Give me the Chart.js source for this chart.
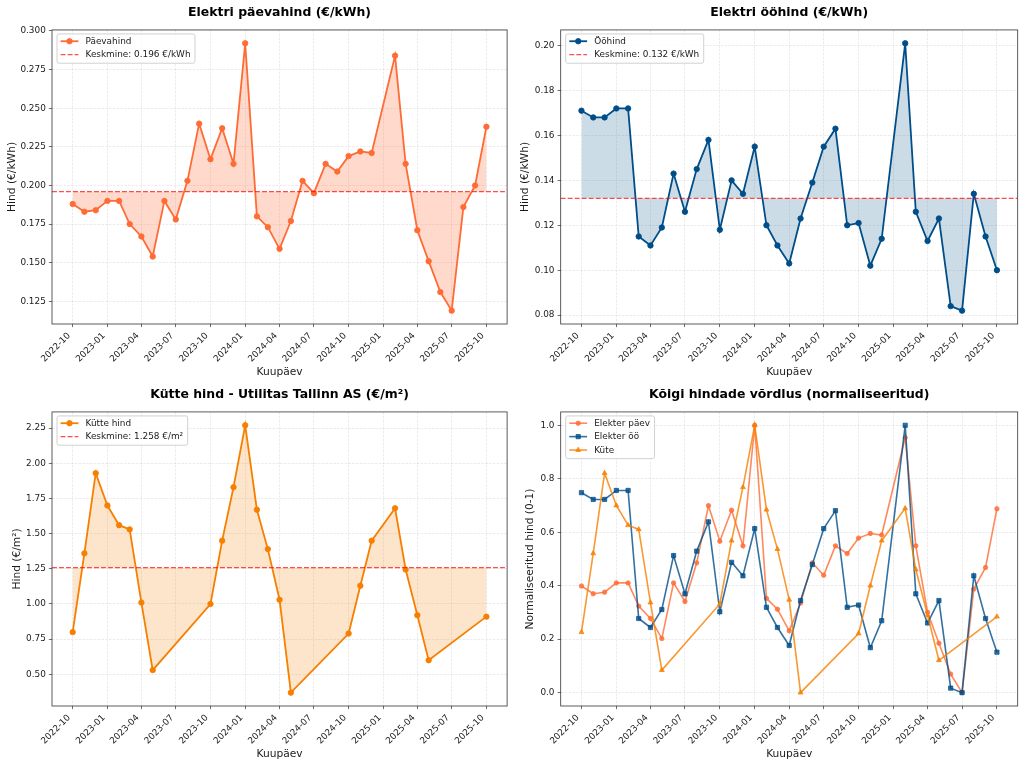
<!DOCTYPE html>
<html><head><meta charset="utf-8">
<script src="https://cdn.jsdelivr.net/npm/chart.js@4.4.1/dist/chart.umd.min.js"></script>
<style>
body{margin:0;background:#fff;width:1024px;height:766px;overflow:hidden;position:relative}
canvas{position:absolute}
</style></head><body>
<canvas id="c1" width="512" height="383" style="left:0;top:0;width:512px;height:383px"></canvas>
<canvas id="c2" width="512" height="383" style="left:512px;top:0;width:512px;height:383px"></canvas>
<canvas id="c3" width="512" height="383" style="left:0;top:382px;width:512px;height:383px"></canvas>
<canvas id="c4" width="512" height="383" style="left:512px;top:382px;width:512px;height:383px"></canvas>
<script>
// ---------- DATA ----------
const elecMonths = ['2022-10','2022-11','2022-12','2023-01','2023-02','2023-03','2023-04','2023-05','2023-06','2023-07','2023-08','2023-09','2023-10','2023-11','2023-12','2024-01','2024-02','2024-03','2024-04','2024-05','2024-06','2024-07','2024-08','2024-09','2024-10','2024-11','2024-12','2025-02','2025-03','2025-04','2025-05','2025-06','2025-07','2025-08','2025-09','2025-10'];
const dayPrice = [0.188,0.183,0.184,0.190,0.190,0.175,0.167,0.154,0.190,0.178,0.203,0.240,0.217,0.237,0.214,0.292,0.180,0.173,0.159,0.177,0.203,0.195,0.214,0.209,0.219,0.222,0.221,0.284,0.214,0.171,0.151,0.131,0.119,0.186,0.200,0.238];
const nightPrice = [0.171,0.168,0.168,0.172,0.172,0.115,0.111,0.119,0.143,0.126,0.145,0.158,0.118,0.140,0.134,0.155,0.120,0.111,0.103,0.123,0.139,0.155,0.163,0.120,0.121,0.102,0.114,0.201,0.126,0.113,0.123,0.084,0.082,0.134,0.115,0.100];
const heatMonths = ['2022-10','2022-11','2022-12','2023-01','2023-02','2023-03','2023-04','2023-05','2023-10','2023-11','2023-12','2024-01','2024-02','2024-03','2024-04','2024-05','2024-10','2024-11','2024-12','2025-02','2025-03','2025-04','2025-05','2025-10'];
const heatPrice = [0.80,1.36,1.93,1.70,1.56,1.53,1.01,0.53,1.00,1.45,1.83,2.27,1.67,1.39,1.03,0.37,0.79,1.13,1.45,1.68,1.245,0.92,0.60,0.91];
const dayMean = 0.196;
const nightMean = 0.132;
const heatMean = 1.258;
const xTickLabels = ['2022-10','2023-01','2023-04','2023-07','2023-10','2024-01','2024-04','2024-07','2024-10','2025-01','2025-04','2025-07','2025-10'];
const dayYTicks = [0.125,0.150,0.175,0.200,0.225,0.250,0.275,0.300];
const nightYTicks = [0.08,0.10,0.12,0.14,0.16,0.18,0.20];
const heatYTicks = [0.50,0.75,1.00,1.25,1.50,1.75,2.00,2.25];
const normYTicks = [0.0,0.2,0.4,0.6,0.8,1.0];

// ---------- HELPERS ----------
const FONT = 'DejaVu Sans';
const TXT = '#1a1a1a';
const base = (()=>{const [y,m]=xTickLabels[0].split('-').map(Number);return Date.UTC(y,m-1,1);})();
function toDay(s){const [y,m]=s.split('-').map(Number);return (Date.UTC(y,m-1,1)-base)/864e5;}
const allX = elecMonths.concat(heatMonths).map(toDay);
const xLo = Math.min(...allX), xHi = Math.max(...allX);
const xMin = xLo-(xHi-xLo)*0.05, xMax = xHi+(xHi-xLo)*0.05;
function yRange(arrs){const v=[].concat(...arrs);const lo=Math.min(...v),hi=Math.max(...v);return [lo-(hi-lo)*0.05,hi+(hi-lo)*0.05];}
function norm(a){const lo=Math.min(...a),hi=Math.max(...a);return a.map(v=>(v-lo)/(hi-lo));}
function pts(months,vals){return months.map((m,i)=>({x:toDay(m),y:vals[i]}));}
function rgba(hex,a){const n=parseInt(hex.slice(1),16);return `rgba(${n>>16},${(n>>8)&255},${n&255},${a})`;}

function drawMarker(ctx,style,x,y,r){
  ctx.beginPath();
  if(style==='rect'){const s=Math.SQRT1_2*r;ctx.rect(x-s,y-s,2*s,2*s);}
  else if(style==='triangle'){let a=-Math.PI/2;ctx.moveTo(x+Math.cos(a)*r,y+Math.sin(a)*r);for(let k=1;k<3;k++){a+=2*Math.PI/3;ctx.lineTo(x+Math.cos(a)*r,y+Math.sin(a)*r);}ctx.closePath();}
  else ctx.arc(x,y,r,0,Math.PI*2);
  ctx.fill();ctx.stroke();
}

const framePlugin = {id:'frame',afterDatasetsDraw(chart){
  const a=chart.chartArea,ctx=chart.ctx;ctx.save();ctx.strokeStyle='#333';ctx.lineWidth=0.8;ctx.setLineDash([]);
  ctx.strokeRect(a.left,a.top,a.right-a.left,a.bottom-a.top);ctx.restore();}};

const legendPlugin = {id:'inlegend',afterDraw(chart){
  const ctx=chart.ctx,a=chart.chartArea,ds=chart.data.datasets;
  ctx.save();
  ctx.font=`8.89px "${FONT}"`;
  const rowH=13.4;
  let maxW=0;ds.forEach(d=>{maxW=Math.max(maxW,ctx.measureText(d.label).width);});
  const x0=a.left+5,y0=a.top+4,w=maxW+33,h=ds.length*rowH+2.5;
  ctx.fillStyle='rgba(255,255,255,0.8)';ctx.strokeStyle='#cccccc';ctx.lineWidth=0.9;
  ctx.beginPath();ctx.roundRect(x0,y0,w,h,2);ctx.fill();ctx.stroke();
  ds.forEach((d,i)=>{
    const y=a.top+11.3+i*rowH;
    ctx.strokeStyle=d.borderColor;ctx.lineWidth=d.borderWidth;ctx.setLineDash(d.borderDash||[]);
    ctx.beginPath();ctx.moveTo(x0+3.6,y);ctx.lineTo(x0+21.4,y);ctx.stroke();
    ctx.setLineDash([]);
    if(d.pointRadius>0){ctx.fillStyle=d.pointBackgroundColor;ctx.strokeStyle=d.pointBorderColor;ctx.lineWidth=d.pointBorderWidth;drawMarker(ctx,d.pointStyle,x0+12.5,y,d.pointRadius);}
    ctx.fillStyle=TXT;ctx.textBaseline='middle';ctx.textAlign='left';
    ctx.fillText(d.label,x0+28.5,y+0.5);
  });
  ctx.restore();}};

function makeChart(id,c){
  const [yMin,yMax]=c.yRange;
  new Chart(document.getElementById(id),{
    type:'line',
    data:{datasets:c.datasets},
    plugins:[framePlugin,legendPlugin],
    options:{
      responsive:false,animation:false,events:[],
      layout:{padding:{left:0,right:c.rightPad,top:0,bottom:0}},
      plugins:{legend:{display:false},tooltip:{enabled:false},
        title:{display:true,text:c.title,fullSize:false,color:'#000',font:{family:FONT,size:12.44,weight:'bold',lineHeight:1.2},padding:{top:5,bottom:10}}},
      scales:{
        x:{type:'linear',min:xMin,max:xMax,
          afterBuildTicks:s=>{s.ticks=xTickLabels.map(t=>({value:toDay(t)}));},
          afterFit:s=>{s.height=59;},
          ticks:{autoSkip:false,minRotation:45,maxRotation:45,padding:3.6,labelOffset:-3.5,color:TXT,font:{family:FONT,size:8.89},
            callback:(v,i)=>xTickLabels[i]},
          grid:{color:'rgba(176,176,176,0.35)',lineWidth:0.71,tickLength:3.1,tickColor:'#333',tickWidth:0.71,tickBorderDash:[]},
          border:{display:false,dash:[2.6,1.2]},
          title:{display:true,text:'Kuupäev',color:TXT,font:{family:FONT,size:10.67,lineHeight:1.2},padding:{top:0,bottom:4.5}}},
        y:{type:'linear',min:yMin,max:yMax,
          afterBuildTicks:s=>{s.ticks=c.yTicks.map(v=>({value:v}));},
          afterFit:s=>{s.width=c.yWidth;},
          ticks:{padding:3.1,color:TXT,font:{family:FONT,size:8.89},callback:v=>Number(v).toFixed(c.yDec)},
          grid:{color:'rgba(176,176,176,0.35)',lineWidth:0.71,tickLength:3.1,tickColor:'#333',tickWidth:0.71,tickBorderDash:[]},
          border:{display:false,dash:[2.6,1.2]},
          title:{display:true,text:c.yTitle,color:TXT,font:{family:FONT,size:10.67,lineHeight:1.2},padding:{top:c.yTitlePad,bottom:0}}}
      }
    }
  });
}

function priceSets(label,months,vals,color,mean,unit,alpha){
  return [
    {label,data:pts(months,vals),borderColor:color,backgroundColor:rgba(color,alpha),fill:{value:mean},
     borderWidth:1.8,pointRadius:2.7,pointBorderWidth:0.9,pointStyle:'circle',pointBackgroundColor:color,pointBorderColor:color,tension:0,order:2},
    {label:'Keskmine: '+mean.toFixed(3)+' '+unit,data:[{x:xMin,y:mean},{x:xMax,y:mean}],borderColor:'rgba(255,0,0,0.7)',
     borderDash:[4.9,2.1],borderWidth:1.33,pointRadius:0,fill:false,order:1}
  ];
}

const C_DAY='#FF6B35',C_NIGHT='#004E89',C_HEAT='#F77F00';

makeChart('c1',{title:'Elektri päevahind (€/kWh)',yTitle:'Hind (€/kWh)',yTitlePad:5.6,yWidth:52,rightPad:3,
  yTicks:dayYTicks,yDec:3,yRange:yRange([dayPrice]),
  datasets:priceSets('Päevahind',elecMonths,dayPrice,C_DAY,dayMean,'€/kWh',0.25)});
makeChart('c2',{title:'Elektri ööhind (€/kWh)',yTitle:'Hind (€/kWh)',yTitlePad:6.6,yWidth:48.7,rightPad:6.3,
  yTicks:nightYTicks,yDec:2,yRange:yRange([nightPrice]),
  datasets:priceSets('Ööhind',elecMonths,nightPrice,C_NIGHT,nightMean,'€/kWh',0.2)});
makeChart('c3',{title:'Kütte hind - Utilitas Tallinn AS (€/m²)',yTitle:'Hind (€/m²)',yTitlePad:10.6,yWidth:52,rightPad:3,
  yTicks:heatYTicks,yDec:2,yRange:yRange([heatPrice]),
  datasets:priceSets('Kütte hind',heatMonths,heatPrice,C_HEAT,heatMean,'€/m²',0.2)});

const nDay=norm(dayPrice),nNight=norm(nightPrice),nHeat=norm(heatPrice);
function normSet(label,months,vals,color,style,r,order){
  return {label,data:pts(months,vals),borderColor:rgba(color,0.8),borderWidth:1.6,pointRadius:r,pointBorderWidth:0.9,
    pointStyle:style,pointBackgroundColor:rgba(color,0.8),pointBorderColor:rgba(color,0.8),fill:false,tension:0,order};
}
makeChart('c4',{title:'Kõigi hindade võrdlus (normaliseeritud)',yTitle:'Normaliseeritud hind (0-1)',yTitlePad:11.6,yWidth:48.7,rightPad:6.3,
  yTicks:normYTicks,yDec:1,yRange:yRange([nDay,nNight,nHeat]),
  datasets:[normSet('Elekter päev',elecMonths,nDay,C_DAY,'circle',2.2,3),
            normSet('Elekter öö',elecMonths,nNight,C_NIGHT,'rect',3.0,2),
            normSet('Küte',heatMonths,nHeat,C_HEAT,'triangle',2.8,1)]});
</script>
</body></html>
